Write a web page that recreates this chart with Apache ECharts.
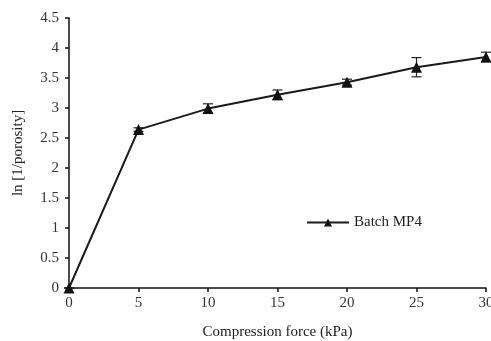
<!DOCTYPE html>
<html>
<head>
<meta charset="utf-8">
<script src="https://cdn.jsdelivr.net/npm/echarts@6/dist/echarts.min.js"></script>
<style>
  html, body { margin: 0; padding: 0; background: #fff; }
  #chart { width: 491px; height: 341px; }
</style>
</head>
<body>
<div id="chart"></div>
<script>
// compression force (kPa) vs ln[1/porosity]
const forces = [0, 5, 10, 15, 20, 25, 30];
const lnValues = [0, 2.64, 2.99, 3.22, 3.43, 3.68, 3.85];
const errors = [0, 0.03, 0.08, 0.08, 0.05, 0.16, 0.08];
const yTicks = [0, 0.5, 1, 1.5, 2, 2.5, 3, 3.5, 4, 4.5];

const FONT = 'Liberation Serif';
const FS = 15;

const chart = echarts.init(document.getElementById('chart'));

const lineData = forces.map((f, i) => [f, lnValues[i]]);
const errData = forces.map((f, i) => [f, lnValues[i] - errors[i], lnValues[i] + errors[i]]);

const option = {
  backgroundColor: '#fff',
  animation: false,
  textStyle: { fontFamily: FONT, color: '#222' },
  grid: { left: 69, right: 5, top: 18, bottom: 53, outerBoundsMode: 'none', containLabel: false },
  legend: {
    left: 301,
    top: 210,
    itemWidth: 42,
    itemHeight: 10,
    itemGap: 6,
    textStyle: { fontFamily: FONT, fontSize: FS, color: '#222' },
    data: ['Batch MP4']
  },
  xAxis: {
    type: 'value',
    min: 0,
    max: 30,
    interval: 5,
    name: 'Compression force (kPa)',
    nameLocation: 'middle',
    nameGap: 37,
    nameTextStyle: { fontFamily: FONT, fontSize: FS, color: '#222' },
    axisLine: { lineStyle: { color: '#111', width: 1.5 } },
    axisTick: { length: 4, lineStyle: { color: '#111', width: 1.5 } },
    axisLabel: { fontFamily: FONT, fontSize: FS, color: '#333', margin: 8 },
    splitLine: { show: false }
  },
  yAxis: {
    type: 'value',
    min: 0,
    max: 4.5,
    interval: 0.5,
    name: 'ln [1/porosity]',
    nameLocation: 'middle',
    nameGap: 43,
    nameTextStyle: { fontFamily: FONT, fontSize: FS, color: '#222' },
    axisLine: { show: true, lineStyle: { color: '#111', width: 1.5 } },
    axisTick: { show: true, length: 4, lineStyle: { color: '#111', width: 1.5 } },
    axisLabel: {
      fontFamily: FONT, fontSize: FS, color: '#333', margin: 10,
      formatter: v => String(yTicks.find(t => Math.abs(t - v) < 1e-6) ?? v)
    },
    splitLine: { show: false }
  },
  series: [
    {
      type: 'custom',
      name: 'err',
      z: 3,
      renderItem: (params, api) => {
        const x = api.value(0);
        const lo = api.coord([x, api.value(1)]);
        const hi = api.coord([x, api.value(2)]);
        const cap = 5;
        const style = { stroke: '#222', lineWidth: 1.2 };
        return {
          type: 'group',
          children: [
            { type: 'line', shape: { x1: lo[0], y1: lo[1], x2: hi[0], y2: hi[1] }, style },
            { type: 'line', shape: { x1: lo[0] - cap, y1: lo[1], x2: lo[0] + cap, y2: lo[1] }, style },
            { type: 'line', shape: { x1: hi[0] - cap, y1: hi[1], x2: hi[0] + cap, y2: hi[1] }, style }
          ]
        };
      },
      encode: { x: 0, y: [1, 2] },
      data: errData
    },
    {
      type: 'line',
      name: 'Batch MP4',
      z: 4,
      data: lineData,
      symbol: 'triangle',
      symbolSize: 11,
      lineStyle: { color: '#1a1a1a', width: 2 },
      itemStyle: { color: '#111' }
    }
  ]
};

chart.setOption(option);
</script>
</body>
</html>
